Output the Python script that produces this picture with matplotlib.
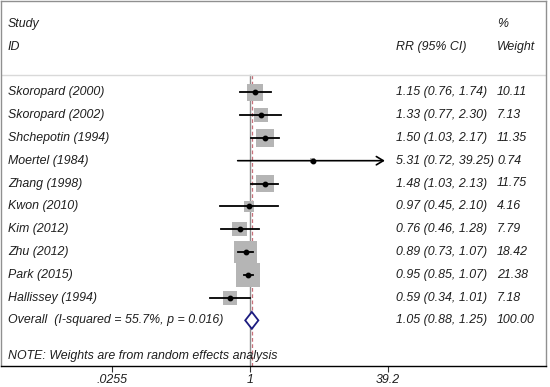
import numpy as np
import matplotlib.pyplot as plt
from matplotlib.transforms import blended_transform_factory

# forest plot data
studies = ['Skoropard (2000)', 'Skoropard (2002)', 'Shchepotin (1994)', 'Moertel (1984)',
           'Zhang (1998)', 'Kwon (2010)', 'Kim (2012)', 'Zhu (2012)', 'Park (2015)',
           'Hallissey (1994)']
rr = [1.15, 1.33, 1.50, 5.31, 1.48, 0.97, 0.76, 0.89, 0.95, 0.59]
lo = [0.76, 0.77, 1.03, 0.72, 1.03, 0.45, 0.46, 0.73, 0.85, 0.34]
hi = [1.74, 2.30, 2.17, 39.25, 2.13, 2.10, 1.28, 1.07, 1.07, 1.01]
weights = [10.11, 7.13, 11.35, 0.74, 11.75, 4.16, 7.79, 18.42, 21.38, 7.18]

overall_label = 'Overall  (I-squared = 55.7%, p = 0.016)'
overall = [1.05, 0.88, 1.25]
overall_weight = 100.00

xticks = [0.0255, 1, 39.2]
xticklabels = ['.0255', '1', '39.2']

W, H, DPI = 550, 387, 100
fig = plt.figure(figsize=(W / DPI, H / DPI), dpi=DPI)

# axes placed in pixel terms (top-left origin)
left_px, right_px, top_px, bottom_px = 1, 546, 1, 366
ax = fig.add_axes([left_px / W, 1 - bottom_px / H,
                   (right_px - left_px) / W, (bottom_px - top_px) / H])
ax.set_xscale('log')
# 1 sits at x=250px, 37.5 px per natural-log unit
ppl = 37.5
ax.set_xlim(np.exp((left_px - 250) / ppl), np.exp((right_px - 250) / ppl))
ax.set_ylim(12, -4)

FS = 8.9
txt = dict(fontsize=FS, style='italic', family='Liberation Sans', color='#1e1e1e',
           va='center')
fx = lambda px: px / W  # figure x from pixel
bt = blended_transform_factory(fig.transFigure, ax.transData)

ax.text(fx(8), -3, 'Study', transform=bt, **txt)
ax.text(fx(8), -2, 'ID', transform=bt, **txt)
ax.text(fx(396), -2, 'RR (95% CI)', transform=bt, **txt)
ax.text(fx(497), -3, '%', transform=bt, **txt)
ax.text(fx(497), -2, 'Weight', transform=bt, **txt)

ax.axhline(-0.77, color='#d9d9d9', lw=1)

# reference lines
ax.plot([1, 1], [-0.77, 12], color='#8c8c8c', lw=1, zorder=1)
ax.plot([overall[0]] * 2, [-0.77, 12], color='#c8707a', lw=0.9, ls=(0, (3, 2)), zorder=1)

rows = np.arange(len(studies))
side_pt = 5.19 * np.sqrt(weights) * 0.72
ax.scatter(rr, rows, s=side_pt ** 2, marker='s', color='#b5b5b5', linewidths=0, zorder=2)
xmax_ci = 36.5
for i in rows:
    if hi[i] > xticks[-1]:
        ax.annotate('', xy=(xmax_ci, i), xytext=(lo[i], i),
                    arrowprops=dict(arrowstyle='->,head_length=0.5,head_width=0.3',
                                    color='black', lw=1.2, shrinkA=0, shrinkB=0),
                    zorder=3)
    else:
        ax.plot([lo[i], hi[i]], [i, i], color='black', lw=1.3, zorder=3)
ax.plot(rr, rows, 'o', color='black', ms=3.2, zorder=4)

for i in rows:
    ax.text(fx(8), i, studies[i], transform=bt, **txt)
    ax.text(fx(396), i, f'{rr[i]:.2f} ({lo[i]:.2f}, {hi[i]:.2f})', transform=bt, **txt)
    ax.text(fx(497), i, f'{weights[i]:.2f}', transform=bt, **txt)

# overall diamond
oy = 10
half = 0.37
ax.fill([overall[1], overall[0], overall[2], overall[0], overall[1]],
        [oy, oy - half, oy, oy + half, oy], facecolor='white', edgecolor='#1c1c80',
        lw=1.3, zorder=5)
ax.text(fx(8), oy, overall_label, transform=bt, **txt)
ax.text(fx(396), oy, f'{overall[0]:.2f} ({overall[1]:.2f}, {overall[2]:.2f})',
        transform=bt, **txt)
ax.text(fx(497), oy, f'{overall_weight:.2f}', transform=bt, **txt)

ax.text(fx(8), 11.55, 'NOTE: Weights are from random effects analysis', transform=bt, **txt)

for s in ['left', 'top', 'right']:
    ax.spines[s].set_color('#909090')
    ax.spines[s].set_linewidth(1)
ax.spines['bottom'].set_color('black')
ax.spines['bottom'].set_linewidth(1)

ax.set_yticks([])
ax.set_xticks(xticks)
ax.set_xticklabels(xticklabels, fontsize=FS, style='italic', family='Liberation Sans',
                   color='#1e1e1e')
ax.minorticks_off()
ax.tick_params(axis='x', length=4, width=0.8, pad=2, color='#333333')

fig.savefig('out.png', dpi=DPI)
